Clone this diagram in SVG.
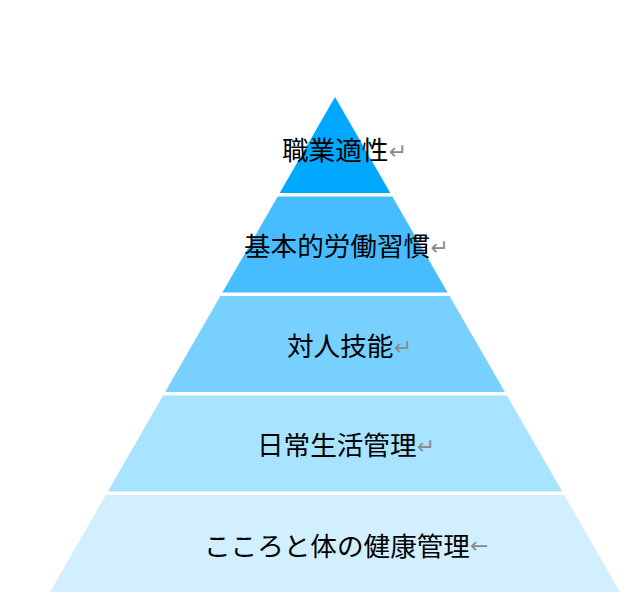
<svg xmlns="http://www.w3.org/2000/svg" width="641" height="615" viewBox="0 0 641 615">
<style>
.lbl{font-family:"Noto Sans CJK JP","Noto Sans CJK SC",sans-serif;font-size:26.6px;fill:#000}
.mk{font-family:"DejaVu Sans",sans-serif;font-size:22px;fill:#8a8a8a}
</style>
<rect width="641" height="615" fill="#fff"/>
<g id="connectors"/>
<g id="layer1">
<polygon points="335,97 390.3,193 279.7,193" fill="#00A9FF"/>
<text class="lbl" x="282" y="160">職業適性<tspan class="mk" dy="-1">↵</tspan></text>
</g>
<g id="layer2">
<polygon points="277.7,196.5 392.3,196.5 447.6,292.5 222.4,292.5" fill="#47BDFF"/>
<text class="lbl" x="244" y="256">基本的労働習慣<tspan class="mk" dy="-1">↵</tspan></text>
</g>
<g id="layer3">
<polygon points="220.4,296 449.6,296 504.9,392 165.1,392" fill="#78D0FF"/>
<text class="lbl" x="287" y="356">対人技能<tspan class="mk" dy="-1">↵</tspan></text>
</g>
<g id="layer4">
<polygon points="163.1,395.5 506.9,395.5 562.2,491.5 107.8,491.5" fill="#A8E3FF"/>
<text class="lbl" x="257" y="455">日常生活管理<tspan class="mk" dy="-1">↵</tspan></text>
</g>
<g id="layer5">
<polygon points="105.8,495 564.2,495 620,592 50,592" fill="#D2EFFF"/>
<text class="lbl" x="204" y="556" font-size="25.6">こころと体の健康管理<tspan class="mk" dy="-3" font-size="15">←</tspan></text>
</g>
</svg>
